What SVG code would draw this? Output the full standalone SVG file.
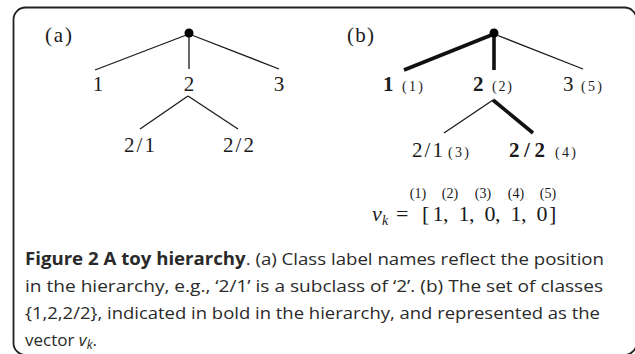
<svg xmlns="http://www.w3.org/2000/svg" width="635" height="354" viewBox="0 0 635 354">
<style>
.m{font-family:"Liberation Serif","DejaVu Serif",serif;font-size:21px;fill:#1a1a1a}
.mb{font-family:"Liberation Serif","DejaVu Serif",serif;font-size:21px;font-weight:bold;fill:#1a1a1a}
.v{font-family:"Liberation Serif","DejaVu Serif",serif;font-size:22px;fill:#1a1a1a}
.s{font-family:"Liberation Serif","DejaVu Serif",serif;font-size:14px;fill:#1a1a1a}
.c{font-family:"Open Sans","Liberation Sans",sans-serif;font-size:17px;fill:#2a2a2a}
.thin{stroke:#1a1a1a;stroke-width:1.3;fill:none}
.thick{stroke:#111;stroke-width:3.6;fill:none}
</style>
<rect x="13.5" y="7.5" width="623" height="347.5" rx="12" fill="none" stroke="#222" stroke-width="1.8"/>
<g id="connectors">
<line class="thin" x1="189" y1="34" x2="95" y2="70"/>
<line class="thin" x1="189" y1="34" x2="189" y2="69"/>
<line class="thin" x1="189" y1="34" x2="279" y2="69"/>
<line class="thin" x1="188" y1="96" x2="140" y2="129"/>
<line class="thin" x1="188" y1="96" x2="238" y2="129"/>
<line class="thick" x1="494" y1="34" x2="404" y2="70"/>
<line class="thick" x1="494" y1="34" x2="494" y2="70"/>
<line class="thin" x1="494" y1="34" x2="583" y2="69"/>
<line class="thin" x1="493" y1="100" x2="444" y2="133"/>
<line class="thick" x1="493" y1="100" x2="533" y2="133"/>
</g>
<g id="panel-a">
<text class="m" x="45" y="42" textLength="27">(a)</text>
<g id="a-root"><circle cx="189" cy="33" r="4.5" fill="#000"/></g>
<g id="a-1"><text class="m" x="98" y="91" text-anchor="middle">1</text></g>
<g id="a-2"><text class="m" x="189" y="91" text-anchor="middle">2</text></g>
<g id="a-3"><text class="m" x="279" y="91" text-anchor="middle">3</text></g>
<g id="a-2-1"><text class="m" x="124" y="152" textLength="31">2/1</text></g>
<g id="a-2-2"><text class="m" x="223" y="152" textLength="31">2/2</text></g>
</g>
<g id="panel-b">
<text class="m" x="347" y="42" textLength="27">(b)</text>
<g id="b-root"><circle cx="494" cy="33" r="4.5" fill="#000"/></g>
<g id="b-1"><text class="mb" x="383" y="91">1</text><text class="s" x="402" y="91" textLength="21">(1)</text></g>
<g id="b-2"><text class="mb" x="473" y="91">2</text><text class="s" x="492" y="91" textLength="20">(2)</text></g>
<g id="b-3"><text class="m" x="563" y="91">3</text><text class="s" x="581" y="91" textLength="21">(5)</text></g>
<g id="b-2-1"><text class="m" x="412" y="157" textLength="31">2/1</text><text class="s" x="448" y="157" textLength="21">(3)</text></g>
<g id="b-2-2"><text class="mb" x="509" y="157" font-size="22" textLength="36">2/2</text><text class="s" x="555" y="157" textLength="21">(4)</text></g>
</g>
<g id="vector">
<text class="v" x="372" y="221" font-style="italic">v</text>
<text class="s" x="382" y="225" font-style="italic">k</text>
<text class="v" x="396" y="221">=</text>
<text class="v" x="422" y="221">[</text>
<text class="v" x="438" y="221" text-anchor="middle">1</text><text class="v" x="443" y="221">,</text>
<text class="v" x="464" y="221" text-anchor="middle">1</text><text class="v" x="469" y="221">,</text>
<text class="v" x="490" y="221" text-anchor="middle">0</text><text class="v" x="495" y="221">,</text>
<text class="v" x="516" y="221" text-anchor="middle">1</text><text class="v" x="521" y="221">,</text>
<text class="v" x="542" y="221" text-anchor="middle">0</text>
<text class="v" x="549" y="221">]</text>
<text class="s" x="418" y="198" text-anchor="middle">(1)</text>
<text class="s" x="450" y="198" text-anchor="middle">(2)</text>
<text class="s" x="483" y="198" text-anchor="middle">(3)</text>
<text class="s" x="516" y="198" text-anchor="middle">(4)</text>
<text class="s" x="548" y="198" text-anchor="middle">(5)</text>
</g>
<g id="caption">
<text class="c" x="25" y="265" textLength="579" lengthAdjust="spacingAndGlyphs"><tspan font-weight="bold">Figure 2 A toy hierarchy</tspan>. (a) Class label names reflect the position</text>
<text class="c" x="25" y="292" textLength="578" lengthAdjust="spacingAndGlyphs">in the hierarchy, e.g., ‘2/1’ is a subclass of ‘2’. (b) The set of classes</text>
<text class="c" x="25" y="319" textLength="575" lengthAdjust="spacingAndGlyphs">{1,2,2/2}, indicated in bold in the hierarchy, and represented as the</text>
<text class="c" x="25" y="346">vector <tspan font-style="italic">v</tspan><tspan font-style="italic" font-size="12px" dy="3">k</tspan><tspan dy="-3">.</tspan></text>
</g>
</svg>
